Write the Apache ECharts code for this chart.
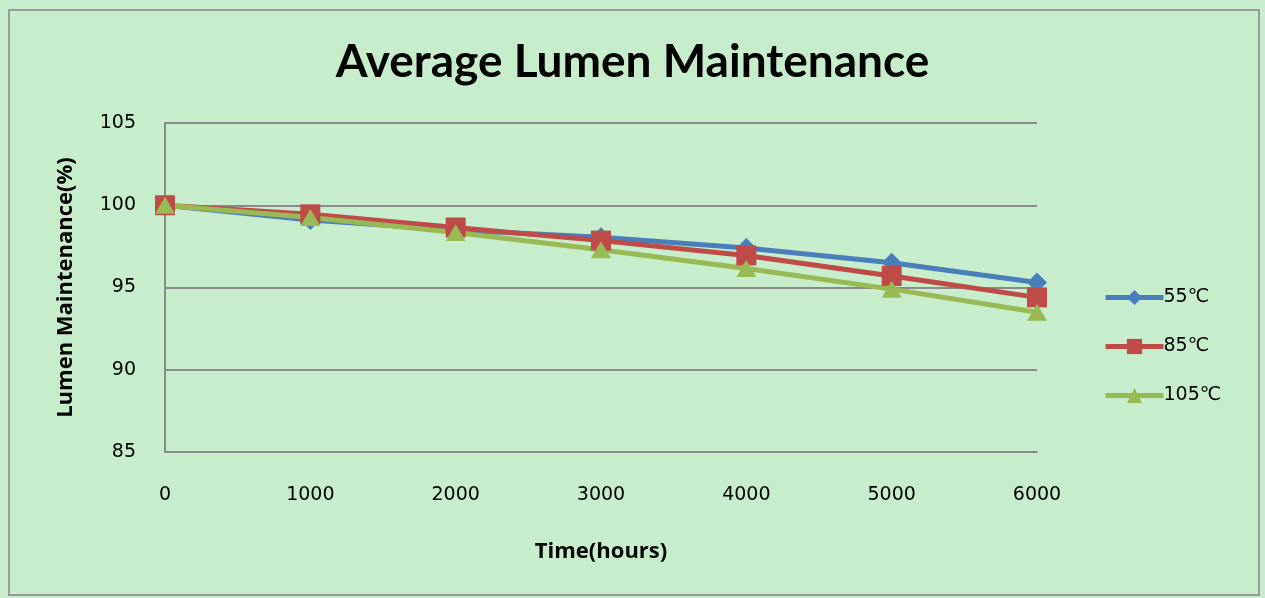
<!DOCTYPE html>
<html>
<head>
<meta charset="utf-8">
<script src="https://cdn.jsdelivr.net/npm/echarts@6/dist/echarts.min.js"></script>
<style>
html, body { margin: 0; padding: 0; background: #C8EDCC; }
#chart1 { width: 1265px; height: 598px; }
</style>
</head>
<body>
<div id="chart1"></div>
<script>
// 横坐标 (hours)
const hours = ['0', '1000', '2000', '3000', '4000', '5000', '6000'];
// 流明维持率 (%)
const lm55 = [100, 99.1, 98.5, 98.05, 97.4, 96.5, 95.3];
const lm85 = [100, 99.45, 98.65, 97.85, 96.95, 95.7, 94.4];
const lm105 = [100, 99.25, 98.35, 97.3, 96.15, 94.9, 93.5];
const yTicks = [85, 90, 95, 100, 105];

const gridColor = '#8A8A8A';

const option = {
  backgroundColor: '#C8EDCC',
  animation: false,
  title: {
    text: 'Average Lumen Maintenance',
    left: 'center',
    top: 34,
    textStyle: {
      fontFamily: 'Lato',
      fontWeight: 'bold',
      fontSize: 46,
      color: '#000'
    }
  },
  legend: {
    orient: 'vertical',
    left: 1103,
    top: 288,
    padding: 0,
    itemWidth: 58,
    itemHeight: 19,
    itemGap: 30,
    lineStyle: { width: 5 },
    textStyle: {
      fontFamily: 'DejaVu Sans',
      fontSize: 19,
      color: '#000',
      padding: [0, 0, 0, -5]
    },
    data: ['55℃', '85℃', '105℃']
  },
  grid: {
    left: 165,
    right: 228,
    top: 123,
    bottom: 146
  },
  xAxis: {
    type: 'category',
    boundaryGap: false,
    data: hours,
    name: 'Time(hours)',
    nameLocation: 'middle',
    nameGap: 89,
    nameTextStyle: {
      fontFamily: 'Open Sans',
      fontWeight: 'bold',
      fontSize: 22,
      color: '#000'
    },
    axisLine: { lineStyle: { color: gridColor, width: 2 } },
    axisTick: { show: false },
    axisLabel: {
      margin: 34,
      fontFamily: 'DejaVu Sans',
      fontSize: 19,
      color: '#000'
    }
  },
  yAxis: {
    type: 'value',
    min: yTicks[0],
    max: yTicks[yTicks.length - 1],
    interval: 5,
    name: 'Lumen Maintenance(%)',
    nameLocation: 'middle',
    nameGap: 88,
    nameTextStyle: {
      fontFamily: 'Open Sans',
      fontWeight: 'bold',
      fontSize: 22,
      color: '#000'
    },
    axisLine: { show: true, lineStyle: { color: gridColor, width: 2 } },
    axisTick: { show: false },
    splitLine: { lineStyle: { color: gridColor, width: 2 } },
    axisLabel: {
      margin: 29,
      fontFamily: 'DejaVu Sans',
      fontSize: 19,
      color: '#000'
    }
  },
  graphic: [
    {
      type: 'rect',
      shape: { x: 9, y: 10, width: 1250, height: 585 },
      style: { fill: null, stroke: '#9A9A9A', lineWidth: 2 },
      silent: true
    }
  ],
  series: [
    {
      name: '55℃',
      type: 'line',
      data: lm55,
      symbol: 'diamond',
      symbolSize: 20,
      color: '#4A7EBB',
      lineStyle: { width: 5 }
    },
    {
      name: '85℃',
      type: 'line',
      data: lm85,
      symbol: 'rect',
      symbolSize: 20,
      color: '#BE4B48',
      lineStyle: { width: 5 }
    },
    {
      name: '105℃',
      type: 'line',
      data: lm105,
      symbol: 'triangle',
      symbolSize: [20, 17],
      color: '#98B954',
      lineStyle: { width: 5 }
    }
  ]
};

const mycharts = echarts.init(document.getElementById('chart1'));
mycharts.setOption(option);
</script>
</body>
</html>
